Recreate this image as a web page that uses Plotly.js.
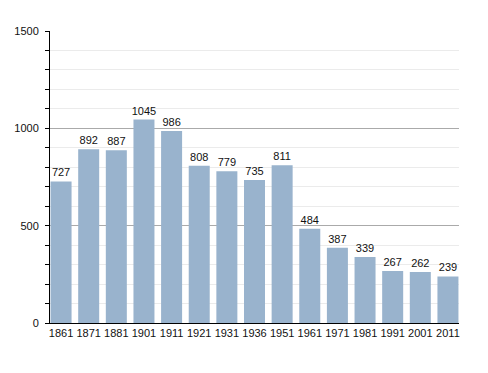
<!DOCTYPE html>
<html><head><meta charset="utf-8">
<script src="https://cdn.plot.ly/plotly-3.0.1.min.js"></script>
<style>html,body{margin:0;padding:0;background:#fff}</style>
</head><body><div id="chart" style="width:488px;height:373px"></div>
<script>
var years = ["1861","1871","1881","1901","1911","1921","1931","1936","1951","1961","1971","1981","1991","2001","2011"];
var population = [727,892,887,1045,986,808,779,735,811,484,387,339,267,262,239];

var gap = 0.24;
var data = [{
  type: 'bar',
  x: years,
  y: population,
  marker: {color: '#99b3cd'},
  text: population.map(String),
  textposition: 'outside',
  constraintext: 'none',
  cliponaxis: false,
  textfont: {family: 'Liberation Sans, Arial, sans-serif', size: 11, color: '#111'},
  hoverinfo: 'x+y'
}];

var layout = {
  width: 488, height: 373,
  margin: {l: 50, r: 29, t: 31, b: 50},
  paper_bgcolor: '#fff', plot_bgcolor: '#fff',
  bargap: gap,
  showlegend: false,
  font: {family: 'Liberation Sans, Arial, sans-serif', size: 11, color: '#111'},
  xaxis: {
    type: 'category',
    range: [-(1 - gap) / 2 - 0.02, years.length - 1 + (1 - gap) / 2 + 0.02],
    showline: true, linecolor: '#000', linewidth: 1,
    ticks: '', showgrid: false,
    tickfont: {size: 11}
  },
  yaxis: {
    range: [0, 1500],
    dtick: 500,
    showline: true, linecolor: '#000', linewidth: 1,
    ticks: 'outside', ticklen: 4, tickcolor: '#000',
    showgrid: true, gridcolor: '#aaaaaa', gridwidth: 1,
    zeroline: false,
    tickfont: {size: 11},
    ticklabelstandoff: 4,
    minor: {dtick: 100, ticks: 'outside', ticklen: 4, tickcolor: '#000', showgrid: true, gridcolor: '#ebebeb', gridwidth: 1}
  }
};

Plotly.newPlot('chart', data, layout, {displayModeBar: false, staticPlot: true});
</script></body></html>
